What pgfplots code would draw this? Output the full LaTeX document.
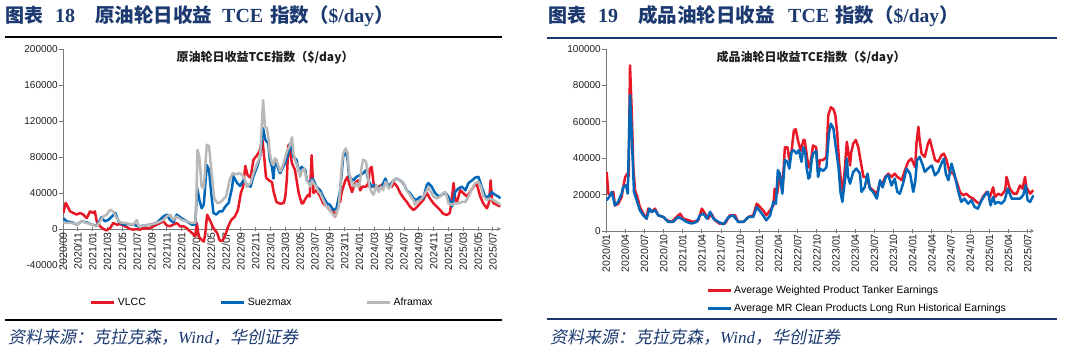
\documentclass[border=0pt]{standalone}
\usepackage{pgfplots}
\pgfplotsset{compat=1.18}
\usepackage{fontspec}
\setmainfont{Liberation Sans}
\newfontfamily\cjk{Noto Sans CJK SC}
\newfontfamily\cjkit{Noto Sans CJK SC}[FakeSlant=0.2]
\newfontfamily\timesf{Liberation Serif}
\definecolor{hdrblue}{RGB}{28,58,112}
\definecolor{cred}{RGB}{232,25,38}
\definecolor{cblue}{RGB}{0,103,185}
\definecolor{cgray}{RGB}{184,184,184}
\definecolor{axisgray}{RGB}{120,120,120}
\definecolor{txt}{RGB}{30,30,30}
\pgfplotsset{
  mystyle/.style={
    scale only axis, enlargelimits=false, axis y line=left,
    axis line style={-, draw=axisgray, line width=0.8pt},
    inner axis line style={-},
    tick style={draw=axisgray, line width=0.8pt},
    major tick length=4pt, tick align=outside,
    scaled ticks=false,
    yticklabel style={font=\fontsize{10}{10}\selectfont, text=txt, inner sep=1pt},
    xticklabel style={font=\fontsize{10.5}{10.5}\selectfont, text=txt, rotate=90, anchor=east, inner sep=1pt},
    hide obscured x ticks=false,
    legend image code/.code={\draw[#1, line width=3pt, line cap=butt] (0pt,0pt) -- (23pt,0pt);},
  }
}
\begin{document}
\begin{tikzpicture}[x=1pt,y=1pt]
\useasboundingbox (0,0) rectangle (1066,352);
\begin{scope}[every node/.style={anchor=base west, inner sep=0pt, text=hdrblue}]
\node at (5,329) {\fontsize{19}{19}\selectfont\cjk\bfseries 图表};
\node at (55,329) {\fontsize{20}{20}\selectfont\timesf\bfseries 18};
\node at (95,329) {\fontsize{19.5}{19.5}\selectfont\cjk\bfseries 原油轮日收益};
\node at (222,329) {\fontsize{20}{20}\selectfont\timesf\bfseries TCE};
\node at (270,329) {\fontsize{19.5}{19.5}\selectfont\cjk\bfseries 指数（{\timesf\$/day}）};
\node at (548,329) {\fontsize{19}{19}\selectfont\cjk\bfseries 图表};
\node at (598,329) {\fontsize{20}{20}\selectfont\timesf\bfseries 19};
\node at (638,329) {\fontsize{19.5}{19.5}\selectfont\cjk\bfseries 成品油轮日收益};
\node at (788,329) {\fontsize{20}{20}\selectfont\timesf\bfseries TCE};
\node at (835,329) {\fontsize{19.5}{19.5}\selectfont\cjk\bfseries 指数（{\timesf\$/day}）};
\node at (8,8) {\fontsize{17}{17}\selectfont\cjkit 资料来源：克拉克森，{\timesf\itshape Wind}，华创证券};
\node at (550,8) {\fontsize{17}{17}\selectfont\cjkit 资料来源：克拉克森，{\timesf\itshape Wind}，华创证券};
\end{scope}
\draw[line width=2pt, black] (5,314.7) -- (502,314.7);
\draw[line width=2.5pt, hdrblue] (547,314) -- (1057,314);
\draw[line width=2pt, black] (5,32) -- (502,32);
\draw[line width=2.5pt, hdrblue] (547,33) -- (1057,33);
\node[text=txt] at (265,294) {\fontsize{12}{12}\selectfont\cjk\bfseries 原油轮日收益TCE指数（\$/day）};
\node[text=txt] at (811,294) {\fontsize{12}{12}\selectfont\cjk\bfseries 成品油轮日收益TCE指数（\$/day）};

\begin{axis}[mystyle, at={(63pt,87pt)}, anchor=south west, width=438pt, height=216pt,
  xmin=0, xmax=59.1, ymin=-40000, ymax=200000, axis x line=middle,
  ytick={-40000,0,40000,80000,120000,160000,200000},
  yticklabels={-40000,0,40000,80000,120000,160000,200000},
  xtick={0,2,...,58},
  xticklabels={2020/09,2020/11,2021/01,2021/03,2021/05,2021/07,2021/09,2021/11,2022/01,2022/03,2022/05,2022/07,2022/09,2022/11,2023/01,2023/03,2023/05,2023/07,2023/09,2023/11,2024/01,2024/03,2024/05,2024/07,2024/09,2024/11,2025/01,2025/03,2025/05,2025/07},
  legend style={at={(0.455,-0.175)}, anchor=center, draw=none, fill=none, legend columns=3,
    font=\fontsize{10.5}{10.5}\selectfont, /tikz/every even column/.append style={column sep=72pt}},
  every axis plot/.append style={line width=2.5pt, line join=round},
]
\addplot[cred] coordinates {(0.05,17800)(0.36,28900)(0.63,25000)(0.95,19600)(1.4,17800)(1.85,16000)(2.3,17800)(2.75,16000)(3.2,12000)(3.65,19600)(4.1,17800)(4.3,19600)(4.55,8500)(5.0,3000)(5.45,0)(5.9,-1500)(6.35,1000)(6.8,6700)(7.25,4800)(7.7,5500)(8.15,3700)(8.6,2200)(9.05,0)(9.5,-700)(9.95,0)(10.4,-700)(10.85,1000)(11.3,500)(11.75,1000)(12.2,3000)(12.65,4800)(13.1,6700)(13.55,8500)(14.0,4000)(14.45,3000)(14.9,5000)(15.35,6700)(15.8,3000)(16.25,3000)(16.7,1000)(17.15,-2600)(17.4,-4400)(17.85,-8000)(18.06,6700)(18.3,-8000)(18.7,-12000)(19.0,-14000)(19.2,-5000)(19.45,16000)(19.8,10000)(20.3,1000)(20.8,-4400)(21.1,-11800)(21.3,-13700)(21.6,-12000)(22.0,-4400)(22.3,3000)(22.7,10000)(23.2,14000)(23.6,21000)(24.0,40000)(24.3,47000)(24.6,70000)(24.9,60000)(25.3,57000)(25.7,77000)(26.1,81000)(26.5,86000)(26.9,100000)(27.2,75000)(27.4,57000)(27.8,54000)(28.2,52000)(28.4,42000)(28.8,30000)(29.3,28000)(29.8,29000)(30.0,36000)(30.2,55000)(30.4,93000)(30.6,88000)(30.9,73000)(31.3,65500)(31.8,40000)(32.2,28500)(32.4,28500)(32.6,32000)(32.9,36000)(33.1,38000)(33.3,36000)(33.55,82000)(33.8,40000)(34.2,43000)(34.7,36000)(35.1,28500)(35.6,25000)(36.0,21000)(36.5,19000)(36.7,13700)(36.9,17000)(37.2,32000)(37.4,30000)(37.6,41000)(38.1,54000)(38.4,58000)(38.6,51000)(39.0,41000)(39.4,51000)(39.8,54000)(40.1,43000)(40.4,47000)(40.9,47000)(41.2,51000)(41.4,67000)(41.65,69000)(41.9,51000)(42.1,45000)(42.6,47000)(43.0,49000)(43.5,51000)(43.9,49000)(44.4,47000)(44.6,52000)(45.1,47000)(45.5,40000)(46.0,34000)(46.4,30000)(46.8,25000)(47.3,21000)(47.7,24000)(48.2,28500)(48.6,32000)(49.1,40000)(49.5,34000)(50.0,28500)(50.4,25000)(50.9,21000)(51.3,17000)(51.8,15500)(52.2,18000)(52.5,36000)(52.7,51000)(52.9,34000)(53.1,28500)(53.6,43000)(54.0,40000)(54.5,36000)(54.9,41000)(55.4,47000)(55.8,51000)(56.3,36000)(56.7,28500)(57.2,23000)(57.5,30000)(57.7,54000)(57.9,32000)(58.1,28500)(58.5,27000)(59.0,25000)};
\addlegendentry{VLCC}
\addplot[cblue] coordinates {(0.05,12000)(0.5,8500)(1.2,7400)(1.85,4800)(2.5,8500)(3.2,7400)(3.9,4800)(4.55,3700)(5.0,10000)(5.2,13000)(5.65,8500)(6.1,10000)(6.6,14000)(7.05,17800)(7.5,8500)(8.15,4800)(8.8,5500)(9.5,4800)(10.2,3000)(10.85,3700)(11.75,4800)(12.65,6700)(13.55,14000)(14.0,16000)(14.45,10000)(14.9,7400)(15.35,16000)(16.0,12000)(16.7,8500)(17.4,4800)(17.85,4800)(18.1,45500)(18.4,32600)(18.7,23000)(19.0,27000)(19.4,71000)(19.7,66000)(20.0,40000)(20.3,17800)(20.7,16000)(21.1,19600)(21.5,19600)(21.9,25000)(22.35,29000)(22.8,45500)(23.0,58500)(23.5,51000)(23.9,47800)(24.4,55000)(24.8,49000)(25.3,47000)(25.7,58500)(26.2,69600)(26.6,80700)(27.0,112000)(27.3,99000)(27.7,95000)(27.9,77000)(28.2,69000)(28.4,56000)(28.6,77000)(28.8,73000)(29.1,65500)(29.3,62000)(29.5,65500)(29.96,73000)(30.4,84000)(30.6,95000)(30.9,88000)(31.1,80000)(31.5,77000)(31.8,64000)(32.2,69000)(32.7,65500)(32.9,54000)(33.3,51000)(33.6,56000)(33.8,54000)(34.2,47000)(34.7,43000)(35.1,36000)(35.6,28500)(36.0,27000)(36.5,21000)(36.9,23000)(37.4,43000)(37.8,80000)(38.15,88000)(38.4,77000)(38.6,58000)(39.2,54000)(39.6,58000)(40.1,60000)(40.5,62000)(40.9,65500)(41.2,54000)(41.65,47000)(42.1,49000)(42.6,45000)(43.0,47000)(43.5,56000)(43.9,47000)(44.6,54000)(45.0,56000)(45.5,54000)(45.9,51000)(46.4,43000)(46.8,40000)(47.3,34000)(47.7,32000)(48.2,36000)(48.6,34000)(49.1,49000)(49.3,51000)(49.75,47000)(50.2,40000)(50.7,36000)(51.1,38000)(51.6,40000)(52.0,36000)(52.5,25000)(52.9,41000)(53.35,45000)(53.8,47000)(54.3,43000)(54.7,51000)(55.2,54000)(55.6,57000)(56.05,58000)(56.5,47000)(56.95,36000)(57.4,36000)(57.85,41000)(58.3,38000)(58.75,36000)(59.0,34000)};
\addlegendentry{Suezmax}
\addplot[cgray] coordinates {(0.05,7400)(0.5,6700)(1.2,6700)(1.85,4800)(2.5,8500)(3.2,6700)(3.9,4800)(4.55,3000)(5.0,8500)(5.45,14000)(5.9,16000)(6.35,21500)(6.8,19000)(7.25,12000)(7.7,7400)(8.4,6700)(9.05,5500)(9.5,4800)(9.95,10000)(10.2,3000)(10.85,3700)(11.75,4800)(12.65,6700)(13.55,10000)(14.0,14000)(14.45,16000)(14.9,10000)(15.35,14000)(16.0,10000)(16.7,8500)(17.4,6700)(17.85,6700)(18.0,36000)(18.15,88000)(18.4,80000)(18.7,47000)(19.0,45500)(19.4,93600)(19.7,92000)(20.1,58500)(20.4,34000)(20.8,29000)(21.1,29000)(21.6,32600)(22.0,36000)(22.5,55000)(22.9,62000)(23.4,60700)(23.9,62000)(24.4,58000)(24.8,47000)(25.3,51000)(25.7,62000)(26.2,73000)(26.6,80700)(27.0,143000)(27.25,114000)(27.5,112000)(27.7,103000)(27.9,84000)(28.2,73000)(28.4,71000)(28.6,78500)(28.8,77000)(29.1,69000)(29.3,64000)(29.5,67000)(29.75,73000)(29.96,78500)(30.2,86000)(30.55,91500)(30.9,102000)(31.1,84000)(31.3,77000)(31.8,65500)(32.0,58000)(32.2,64000)(32.5,67000)(32.7,62000)(32.9,54000)(33.4,47000)(33.6,54000)(33.8,51000)(34.2,47000)(34.5,41000)(34.7,40000)(34.9,36000)(35.4,27000)(35.6,25000)(36.0,21000)(36.5,15500)(36.7,14000)(36.9,17000)(37.2,25000)(37.4,43000)(37.6,69000)(37.8,84000)(38.15,89600)(38.4,84000)(38.6,62000)(39.0,51000)(39.4,47000)(39.6,51000)(39.9,47000)(40.1,54000)(40.3,69000)(40.5,77000)(40.9,75000)(41.07,62000)(41.35,47000)(41.65,41000)(41.9,38000)(42.1,43000)(42.3,49000)(42.6,41000)(42.9,47000)(43.2,43000)(43.5,52500)(43.7,51000)(43.9,45000)(44.2,47000)(44.4,51000)(44.6,54000)(45.0,56000)(45.5,54000)(45.9,51000)(46.4,43000)(46.8,38000)(47.3,32000)(47.5,27000)(47.7,30000)(48.2,32000)(48.6,36000)(49.1,43000)(49.3,47000)(49.5,43000)(50.0,36000)(50.4,34000)(50.9,36000)(51.3,40000)(51.55,41000)(51.8,36000)(52.0,28500)(52.5,27000)(52.9,28500)(53.4,28500)(53.8,30000)(54.3,30000)(54.7,36000)(55.2,45000)(55.6,51000)(56.05,52500)(56.4,47000)(56.75,36000)(57.2,32000)(57.6,34000)(58.1,32000)(58.5,30000)(59.0,27000)};
\addlegendentry{Aframax}
\end{axis}

\begin{axis}[mystyle, at={(606pt,121pt)}, anchor=south west, width=428pt, height=182pt,
  xmin=0, xmax=67, ymin=0, ymax=100000, axis x line=bottom,
  ytick={0,20000,40000,60000,80000,100000},
  yticklabels={0,20000,40000,60000,80000,100000},
  xtick={0,3,...,66},
  xticklabels={2020/01,2020/04,2020/07,2020/10,2021/01,2021/04,2021/07,2021/10,2022/01,2022/04,2022/07,2022/10,2023/01,2023/04,2023/07,2023/10,2024/01,2024/04,2024/07,2024/10,2025/01,2025/04,2025/07},
  legend style={at={(0.2266,-0.28)}, anchor=north west, draw=none, fill=none, legend columns=1,
    font=\fontsize{10.5}{10.5}\selectfont, row sep=5pt},
  legend cell align=left,
  every axis plot/.append style={line width=2.5pt, line join=round},
]
\addplot[cred] coordinates {(0.1,32500)(0.37,20500)(0.73,19600)(1.15,21500)(1.4,14000)(1.93,15000)(2.45,18700)(2.7,24000)(3.0,29700)(3.34,31500)(3.55,30000)(3.76,91000)(4.0,68000)(4.28,35000)(4.54,22400)(4.9,18700)(5.3,13200)(5.84,9500)(6.36,6800)(6.6,12300)(7.15,10500)(7.67,12300)(8.2,8600)(8.97,7700)(9.5,5900)(10.3,5000)(10.8,6800)(11.6,9500)(12.1,6800)(12.9,5900)(13.7,5000)(14.45,5900)(15.0,12300)(15.5,9500)(16.0,6800)(16.5,9500)(17.05,5900)(17.8,4000)(18.6,4000)(19.4,8600)(20.2,8600)(20.7,5000)(21.5,5000)(22.3,7700)(23.05,8600)(23.6,15000)(24.1,13200)(24.6,11400)(25.1,8600)(25.7,11400)(26.2,14000)(26.4,23300)(26.8,20500)(27.2,31500)(27.6,21500)(28.0,46000)(28.4,46000)(28.7,39000)(29.05,44000)(29.4,55000)(29.7,56000)(30.1,49000)(30.5,44000)(30.9,50000)(31.1,50000)(31.4,42500)(31.7,35000)(31.9,35000)(32.2,41600)(32.4,47000)(32.9,46000)(33.2,32500)(33.5,39000)(34.0,39000)(34.5,40700)(34.8,63700)(35.2,68000)(35.6,67000)(35.9,63700)(36.2,53600)(36.5,37000)(36.9,24000)(37.1,21500)(37.4,35000)(37.7,49000)(37.9,44000)(38.2,36000)(38.4,43500)(38.7,48000)(39.1,50000)(39.5,46000)(39.75,40700)(40.3,29700)(40.8,29700)(41.3,24000)(41.8,22400)(42.4,20500)(42.9,27000)(43.3,26000)(43.7,29700)(44.2,31500)(44.7,29700)(45.2,31500)(45.6,29700)(46.0,28800)(46.3,27900)(46.8,33400)(47.3,38000)(47.8,39800)(48.4,35000)(48.6,48000)(48.9,57200)(49.1,50000)(49.4,42500)(49.9,40700)(50.4,48000)(50.7,50300)(51.0,46000)(51.5,39000)(52.0,38000)(52.5,41600)(52.9,42500)(53.3,39000)(53.8,32500)(54.4,31500)(54.9,27000)(55.4,21500)(55.9,19600)(56.4,20500)(56.97,18700)(57.5,17800)(58.0,16000)(58.5,15000)(59.0,18700)(59.6,21500)(60.1,18700)(60.6,24000)(60.9,18700)(61.4,20500)(61.9,19600)(62.5,22400)(62.7,29700)(63.0,26000)(63.2,23300)(63.8,20500)(64.3,20500)(64.8,25000)(65.2,23300)(65.6,29700)(65.8,24000)(66.4,20500)(66.9,22400)};
\addlegendentry{Average Weighted Product Tanker Earnings}
\addplot[cblue] coordinates {(0.1,16900)(0.5,18700)(0.9,21500)(1.4,14100)(1.9,16000)(2.45,20500)(2.7,24200)(3.13,25100)(3.4,20500)(3.76,74700)(4.0,55400)(4.38,21500)(4.8,16900)(5.3,11400)(5.84,8600)(6.36,6800)(6.8,12300)(7.15,10500)(7.67,11400)(8.2,8600)(8.97,7700)(9.75,5000)(10.5,5000)(11.3,7700)(11.8,6800)(12.6,5000)(13.4,4100)(14.2,5000)(14.7,8600)(15.25,9500)(15.8,6800)(16.3,10500)(16.8,6800)(17.6,5000)(18.4,3700)(19.2,7700)(19.9,8600)(20.7,5000)(21.5,5000)(22.3,7700)(23.05,7700)(23.6,13200)(24.4,9500)(25.1,5900)(25.7,8600)(26.2,16000)(26.6,15000)(26.9,33400)(27.2,31500)(27.6,20500)(28.0,39000)(28.4,38000)(28.7,34300)(29.05,43500)(29.4,44400)(29.8,42600)(30.2,44400)(30.6,38000)(30.9,46000)(31.2,43000)(31.4,35000)(31.7,28800)(31.9,29700)(32.2,39000)(32.4,42500)(32.9,44000)(33.2,29700)(33.5,34300)(34.0,33000)(34.5,35000)(34.9,53600)(35.2,59000)(35.6,56300)(35.9,48000)(36.4,35000)(36.7,21500)(37.0,16000)(37.4,27900)(37.7,39800)(37.9,29700)(38.2,26000)(38.7,32500)(39.2,34300)(39.75,31500)(40.0,21500)(40.5,24000)(40.95,31500)(41.3,23300)(41.8,21500)(42.4,17800)(42.9,27900)(43.3,24000)(43.8,29700)(44.2,30600)(44.7,25000)(45.2,28800)(45.6,21500)(46.0,20500)(46.5,26000)(47.05,34300)(47.6,31500)(48.1,21500)(48.4,27000)(48.7,39000)(49.1,40700)(49.6,36000)(49.9,32500)(50.4,34300)(51.0,36000)(51.5,30600)(52.0,32500)(52.5,37000)(52.9,39800)(53.2,31500)(53.6,27900)(54.1,37000)(54.6,30600)(55.1,22400)(55.6,16000)(56.1,17800)(56.7,15000)(57.2,16900)(57.7,13200)(58.2,12300)(58.8,16900)(59.3,19600)(59.8,21500)(60.2,14100)(60.6,18700)(60.9,15000)(61.4,16000)(61.9,15000)(62.4,16900)(62.9,23300)(63.5,17800)(64.0,17800)(64.8,17800)(65.3,19600)(65.7,25000)(66.0,16900)(66.4,16000)(66.9,19600)};
\addlegendentry{Average MR Clean Products Long Run Historical Earnings}
\end{axis}
\end{tikzpicture}
\end{document}
